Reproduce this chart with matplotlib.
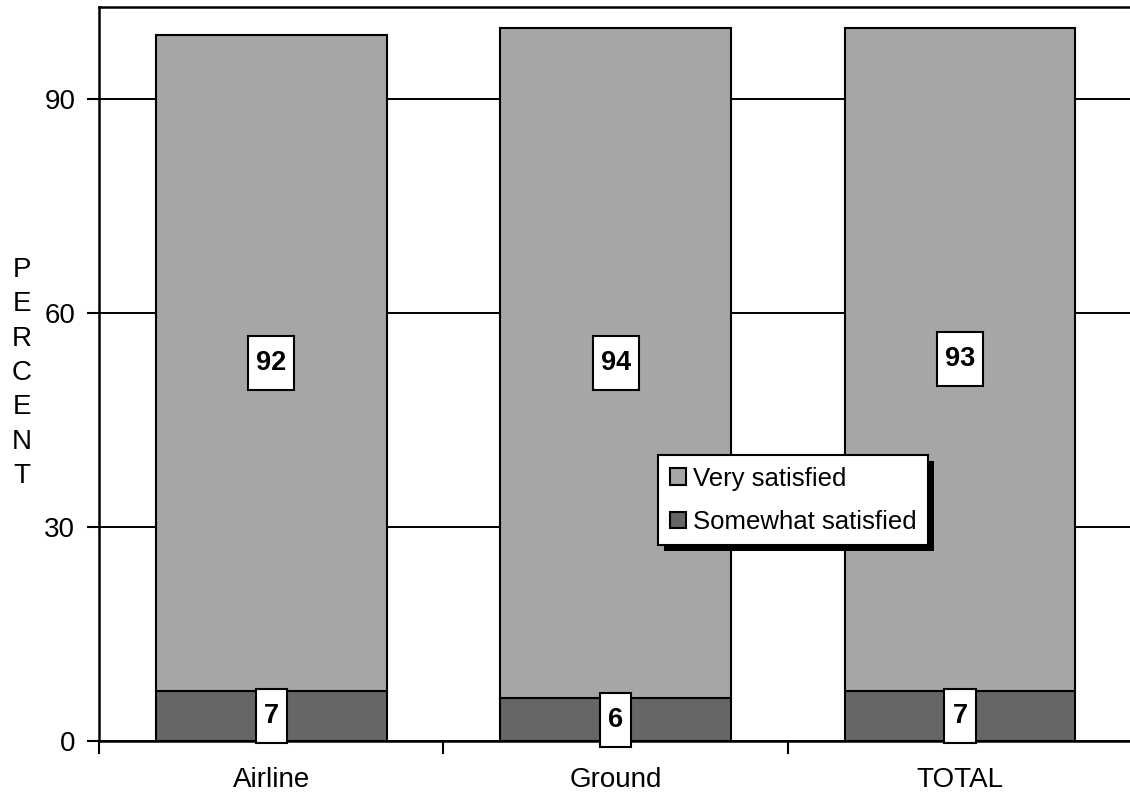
import matplotlib.pyplot as plt
from matplotlib.patches import Rectangle

plt.rcParams['font.family'] = ['Liberation Sans', 'DejaVu Sans']

categories = ['Airline', 'Ground', 'TOTAL']
somewhat = [7, 6, 7]
very = [92, 94, 93]

light = '#a6a6a6'
dark = '#666666'

W, H = 1130, 793
fig = plt.figure(figsize=(W / 100, H / 100), dpi=100)
ax = fig.add_axes([99 / W, 52 / H, 1 - 99 / W + 0.002, (741 - 7) / H])

x = list(range(len(categories)))
width = 0.67

ax.bar(x, somewhat, width, color=dark, edgecolor='black', linewidth=1.5,
       label='Somewhat satisfied', zorder=3)
ax.bar(x, very, width, bottom=somewhat, color=light, edgecolor='black',
       linewidth=1.5, label='Very satisfied', zorder=3)

labels_txt = []
for i in x:
    labels_txt.append(ax.text(i, somewhat[i] / 2, str(somewhat[i]), ha='center', va='center',
                              fontsize=19.5, fontweight='bold', zorder=7))
    labels_txt.append(ax.text(i, somewhat[i] + very[i] / 2, str(very[i]), ha='center',
                              va='center', fontsize=19.5, fontweight='bold', zorder=7))

ax.set_ylim(0, 102.9)
ax.set_xlim(-0.5, 2.5)
ax.set_yticks([0, 30, 60, 90])
ax.yaxis.grid(True, color='black', linewidth=1.4)
ax.set_axisbelow(True)
ax.tick_params(axis='y', direction='out', length=9, width=1.5, labelsize=20, pad=8)

ax.set_xticks(x)
ax.set_xticklabels(categories)
ax.set_xticks([-0.5, 0.5, 1.5, 2.5], minor=True)
ax.tick_params(axis='x', which='major', length=0, labelsize=20, pad=19)
ax.tick_params(axis='x', which='minor', direction='out', length=9, width=1.5)

for side in ['left', 'top', 'bottom']:
    ax.spines[side].set_linewidth(1.8)
ax.spines['right'].set_visible(False)

fig.text(22 / W, 1 - 373 / H, '\n'.join('PERCENT'), ha='center', va='center',
         fontsize=20, linespacing=1.42)

handles, labels = ax.get_legend_handles_labels()
leg = ax.legend(handles[::-1], labels[::-1], loc='upper left',
                bbox_to_anchor=(658 / W, 1 - 455 / H), bbox_transform=fig.transFigure,
                fontsize=18.5, frameon=True, fancybox=False, edgecolor='black',
                framealpha=1, handlelength=0.65, handleheight=0.6, handletextpad=0.25,
                borderpad=0.45, labelspacing=0.75, borderaxespad=0)
leg.get_frame().set_linewidth(1.5)
leg.set_zorder(10)

fig.canvas.draw()
inv = fig.transFigure.inverted()

# white boxes behind the value labels
for t in labels_txt:
    bb = t.get_window_extent()
    cx, cy = (bb.x0 + bb.x1) / 2, (bb.y0 + bb.y1) / 2
    bw, bh = bb.width + 16, 54
    ax.add_patch(Rectangle(((cx - bw / 2) / W, (cy - bh / 2) / H), bw / W, bh / H,
                           transform=fig.transFigure, facecolor='white', edgecolor='black',
                           linewidth=1.5, zorder=6, clip_on=False))

# legend drop shadow
lb = leg.get_window_extent().transformed(inv)
ax.add_patch(Rectangle((lb.x0 + 6 / W, lb.y0 - 6 / H), lb.width, lb.height,
                       transform=fig.transFigure, facecolor='black', edgecolor='none',
                       zorder=9, clip_on=False))

fig.savefig('out.png', dpi=100)
